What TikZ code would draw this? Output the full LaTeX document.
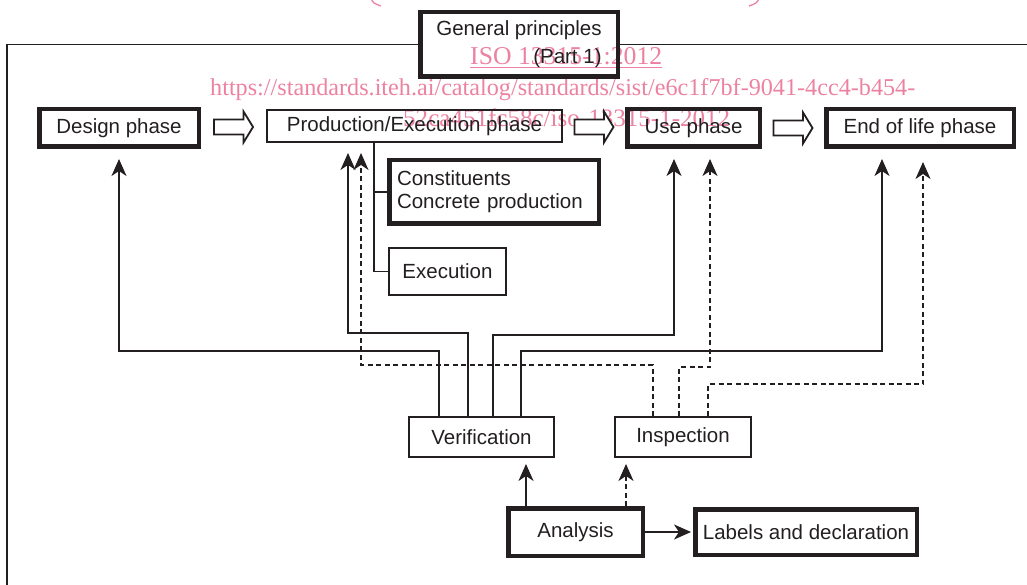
\documentclass[tikz,border=0pt]{standalone}
\usepackage{fontspec}
\setmainfont{Liberation Sans}
\newfontfamily\wmfont{Liberation Serif}
\usetikzlibrary{arrows.meta,calc}
\definecolor{wm}{RGB}{236,130,162}
\definecolor{ink}{RGB}{35,31,32}
\pgfdeclarelayer{bg}
\pgfsetlayers{bg,main}
\tikzset{
  thinbox/.style={draw=ink, line width=1.9pt, inner sep=0pt, text=ink},
  thickbox/.style={draw=ink, line width=4.5pt, inner sep=0pt, text=ink},
  conn/.style={draw=ink, line width=1.8pt, -{Stealth[length=17pt,width=15pt,inset=5pt]}},
  dconn/.style={conn, dash pattern=on 5pt off 3.5pt},
  plain/.style={draw=ink, line width=1.8pt},
  wmtext/.style={text=wm, inner sep=0pt, font=\wmfont\fontsize{25}{28}\selectfont},
  hollowarrow/.pic={\draw[draw=ink, line width=1.8pt, line join=miter, fill=white]
     (-19.5,-7.5) -- (10,-7.5) -- (10,-15.5) -- (19.5,0) -- (10,15.5) -- (10,7.5) -- (-19.5,7.5) -- cycle;}
}
\begin{document}
\begin{tikzpicture}[x=1pt,y=-1pt,font=\fontsize{20.5}{24}\selectfont]
\useasboundingbox (0,0) rectangle (1027,585);

% nodes
\node[thickbox, minimum width=197.5pt, minimum height=64.5pt, align=right] (gp) at (519,44.5) {General principles\\[4pt](Part 1)};
\node[thickbox, minimum width=159.5pt, minimum height=37.5pt] (design) at (119,128) {Design phase};
\node[thinbox, minimum width=295pt, minimum height=32pt] (prod) at (414.5,126) {Production/Execution phase};
\node[thickbox, minimum width=132.5pt, minimum height=37.5pt] (use) at (693.5,128) {Use phase};
\node[thickbox, minimum width=187.5pt, minimum height=37.5pt] (eol) at (920,128) {End of life phase};
\node[thickbox, inner xsep=7.75pt, text width=194pt, minimum height=63.5pt, align=left] (constit) at (494,192) {Constituents\\[-1pt]Concrete production};
\node[thinbox, minimum width=117pt, minimum height=47pt] (exec) at (447.5,271.5) {Execution};
\node[thinbox, minimum width=145pt, minimum height=40pt] (verif) at (481.5,437) {Verification};
\node[thinbox, minimum width=136pt, minimum height=40pt] (insp) at (683,437) {Inspection};
\node[thickbox, minimum width=134.5pt, minimum height=47.5pt] (analysis) at (575.5,532) {Analysis};
\node[thickbox, minimum width=221.5pt, minimum height=45.5pt] (labels) at (806,532) {Labels and declaration};

% frame
\draw[plain] (7,600) |- (gp.west);
\draw[plain] (gp.east) -- (1040,44.5);

% hollow arrows between phases
\pic at ($(design.east)!0.5!(prod.west)$) {hollowarrow};
\pic at ($(prod.east)!0.5!(use.west)$) {hollowarrow};
\pic at ($(use.east)!0.5!(eol.west)$) {hollowarrow};

% branch under production
\coordinate (br) at ([xshift=-40.5pt]prod.south);
\draw[plain] (br) |- (constit.west);
\draw[plain] (br) |- (exec.west);

% verification connectors
\draw[conn] ([xshift=-42.5pt]verif.north) -- ++(0,-65) -| ([yshift=-10pt]design.south);
\draw[conn] ([xshift=-13.5pt]verif.north) -- ++(0,-83) -| ([xshift=-66.5pt,yshift=-10pt]prod.south);
\draw[conn] ([xshift=11.5pt]verif.north) -- ++(0,-81) -| ([xshift=-19.5pt,yshift=-10pt]use.south);
\draw[conn] ([xshift=39.5pt]verif.north) -- ++(0,-65) -| ([xshift=-38pt,yshift=-10pt]eol.south);

% inspection connectors
\draw[dconn] ([xshift=-30pt]insp.north) -- ++(0,-51) -| ([xshift=-53.5pt,yshift=-10pt]prod.south);
\draw[dconn] ([xshift=-4pt]insp.north) -- ++(0,-49) -| ([xshift=16.5pt,yshift=-10pt]use.south);
\draw[dconn] ([xshift=25pt]insp.north) -- ++(0,-32) -| ([xshift=3pt,yshift=-13pt]eol.south);

% analysis connectors
\coordinate (a1) at ([xshift=-49.5pt]analysis.north);
\draw[conn, shorten >=6pt] (a1) -- (a1 |- verif.south);
\coordinate (a2) at ([xshift=50.5pt]analysis.north);
\draw[dconn, shorten >=6pt] (a2) -- (a2 |- insp.south);
\draw[conn, shorten >=2pt] (analysis.east) -- (labels.west);

% watermark
\begin{pgfonlayer}{bg}
\node[wmtext, anchor=base west] (wm1) at (470,65) {\resizebox{192pt}{!}{\underline{ISO 13315-1:2012}}};
\node[wmtext, anchor=base west] (wm2) at (210,96) {\resizebox{705pt}{!}{https://standards.iteh.ai/catalog/standards/sist/e6c1f7bf-9041-4cc4-b454-}};
\node[wmtext, anchor=base west] (wm3) at (403,127) {\resizebox{327pt}{!}{52ca451fc58c/iso-13315-1-2012}};
\draw[wm, line width=1.3pt] (371,-2) .. controls (373,3) .. (381,6);
\draw[wm, line width=1.3pt] (759,-2) .. controls (757,3) .. (749,6);
\end{pgfonlayer}
\end{tikzpicture}
\end{document}
